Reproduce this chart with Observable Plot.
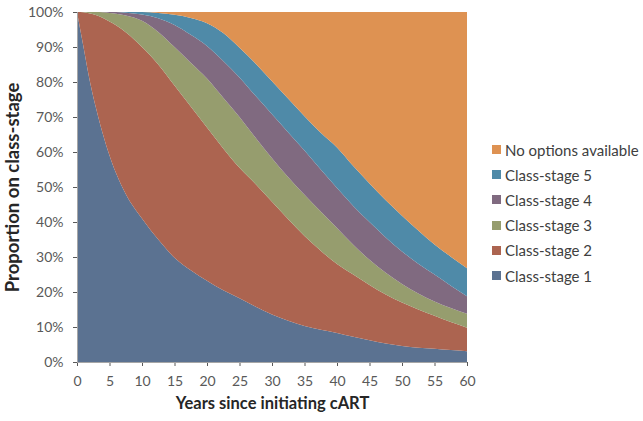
<!DOCTYPE html>
<html><head><meta charset="utf-8">
<script src="https://cdn.jsdelivr.net/npm/d3@7"></script>
<script src="https://cdn.jsdelivr.net/npm/@observablehq/plot@0.6"></script>
<style>
body{margin:0;background:#fff;font-family:Lato,sans-serif;}
#wrap{position:relative;width:643px;height:421px;}
#legend{position:absolute;left:492px;top:137px;}
.item{display:flex;align-items:center;height:25.2px;font-size:15px;color:#404040;white-space:nowrap;}
.sw{width:9px;height:9px;margin-right:4px;flex:none;}
</style></head><body><div id="wrap"><div id="legend"></div></div>
<script>
const years = [0,1,2,3,4,5,6,7.5,10,12.5,15,17.5,20,22.5,25,27.5,30,32.5,35,37.5,40,42.5,45,47.5,50,52.5,55,57.5,60];
const stageNames = ["Class-stage 1","Class-stage 2","Class-stage 3","Class-stage 4","Class-stage 5","No options available"];
const stageColors = ["#5b7291","#ac6450","#969d6e","#806a80","#4f8aa8","#de9252"];
const xTicks = [0,5,10,15,20,25,30,35,40,45,50,55,60];
const yTicks = [0,10,20,30,40,50,60,70,80,90,100];
// proportion (%) on each stage at each year
const stage1 = [100,90,80,72,65,59,54,48,41,35,29.8,26.2,23.2,20.5,18.2,15.8,13.6,11.8,10.3,9.2,8.3,7.2,6.2,5.3,4.6,4.1,3.8,3.4,3.1];
const stage2 = [0,9.9,19.6,27.1,33.3,38.3,42.2,46.2,49,50,49.2,46.8,43.8,40.5,37.3,35,32.2,29,25.7,22.6,19.7,17.8,15.8,14,12.4,10.9,9.4,8,6.7];
const stage3 = [0,0.1,0.4,0.9,1.6,2.4,3.3,4.8,7.5,9.3,11,12.5,14,14.5,14.5,13.2,12.4,12,11.8,11.2,10.3,8.5,7.2,6.2,5.3,4.6,4.1,4,4];
const stage4 = [0,0,0,0,0.1,0.3,0.5,0.8,1.8,3.9,6.3,8,9.3,10.5,11.3,12,12.6,12.8,12.6,12,11.4,11.1,10.8,10.1,9.3,8.5,7.7,6.4,5];
const stage5 = [0,0,0,0,0,0,0,0.2,0.7,1.5,2.9,4.8,6.5,8,8.5,9.2,9.4,9.6,9.8,10.5,11.6,11.4,11,10.6,10.2,9.5,8.6,8.3,8];
const noOptions = [0,0,0,0,0,0,0,0,0,0.3,0.8,1.7,3.2,6,10.2,14.8,19.8,24.8,29.8,34.5,38.7,44,49,53.8,58.2,62.4,66.4,69.9,73.2];

const series = [stage1,stage2,stage3,stage4,stage5,noOptions];
const rows = [];
series.forEach((vals,i)=>vals.forEach((v,j)=>rows.push({year:years[j],stage:stageNames[i],value:v})));

const chart = Plot.plot({
  width:643, height:421,
  marginLeft:77, marginRight:176, marginTop:12, marginBottom:59,
  style:{fontFamily:"Lato, sans-serif", fontSize:"14px", color:"#595959", background:"#fff"},
  x:{domain:[0,60], ticks:xTicks, tickSize:4, tickPadding:10, label:null},
  y:{domain:[0,100], ticks:yTicks, tickFormat:d=>d+"%", tickSize:4, tickPadding:10, label:null},
  color:{domain:stageNames, range:stageColors},
  marks:[
    Plot.areaY(rows,{x:"year", y:"value", fill:"stage", curve:"monotone-x"}),
    Plot.ruleY([0],{stroke:"#a6a6a6"}),
    Plot.ruleX([0],{stroke:"#a6a6a6"}),
    Plot.text(["Years since initiating cART"],{text:d=>d, frameAnchor:"bottom", dy:46, fontWeight:"bold", fontSize:16.5, fill:"#262626"}),
    Plot.text(["Proportion on class-stage"],{text:d=>d, frameAnchor:"left", dx:-64, rotate:-90, textAnchor:"middle", fontWeight:"bold", fontSize:18.5, fill:"#262626"})
  ]
});
document.getElementById("wrap").prepend(chart);

const legend = document.getElementById("legend");
for (let i = stageNames.length-1; i >= 0; i--) {
  const it = document.createElement("div"); it.className="item";
  const sw = document.createElement("span"); sw.className="sw"; sw.style.background=stageColors[i];
  const tx = document.createElement("span"); tx.textContent=stageNames[i];
  it.append(sw, tx); legend.append(it);
}
</script></body></html>
